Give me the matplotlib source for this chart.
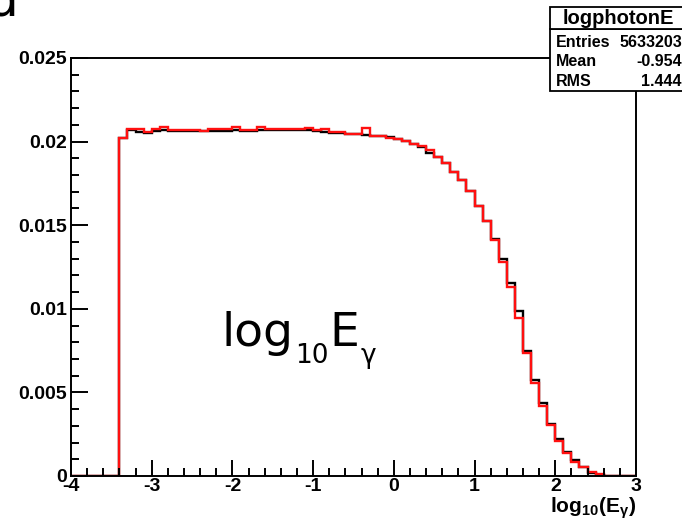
import numpy as np
import matplotlib
matplotlib.use("Agg")
import matplotlib.pyplot as plt
from matplotlib.patches import Rectangle

plt.rcParams['mathtext.fontset'] = 'custom'
plt.rcParams['mathtext.rm'] = 'Liberation Sans:bold'
plt.rcParams['mathtext.it'] = 'Liberation Sans:bold'
plt.rcParams['mathtext.bf'] = 'Liberation Sans:bold'

# ---- data ----
bin_edges = np.round(np.linspace(-4.0, 3.0, 71), 2)

black_vals = [
    0, 0, 0, 0, 0, 0,
    0.02024, 0.02069, 0.02056, 0.02054, 0.02063, 0.02069, 0.02063, 0.02063,
    0.02063, 0.02063, 0.02065, 0.02063, 0.02063, 0.02063, 0.02069, 0.02065,
    0.02065, 0.02069, 0.02069, 0.02069, 0.02069, 0.02069, 0.02067, 0.02067,
    0.02065, 0.02055, 0.02053, 0.02053, 0.02045, 0.02045, 0.02040, 0.02035,
    0.02035, 0.02030,
    0.02018, 0.02004, 0.01984, 0.01965, 0.01930, 0.01910, 0.01870, 0.01820,
    0.01770, 0.01705, 0.01617, 0.01527, 0.01417, 0.01296, 0.01152, 0.00987,
    0.00748, 0.00572, 0.00435, 0.00311, 0.00220, 0.00145, 0.00096, 0.00056,
    0.00020, 0.00006, 0, 0, 0, 0,
]
red_vals = [
    0, 0, 0, 0, 0, 0,
    0.02024, 0.02073, 0.02073, 0.02060, 0.02075, 0.02089, 0.02069, 0.02069,
    0.02069, 0.02069, 0.02065, 0.02075, 0.02075, 0.02075, 0.02089, 0.02069,
    0.02069, 0.02089, 0.02073, 0.02073, 0.02073, 0.02073, 0.02075, 0.02079,
    0.02069, 0.02075, 0.02060, 0.02060, 0.02045, 0.02045, 0.02080, 0.02035,
    0.02035, 0.02024,
    0.02018, 0.02004, 0.01984, 0.01975, 0.01950, 0.01910, 0.01870, 0.01820,
    0.01770, 0.01705, 0.01617, 0.01527, 0.01410, 0.01278, 0.01132, 0.00943,
    0.00734, 0.00554, 0.00419, 0.00307, 0.00211, 0.00139, 0.00086, 0.00056,
    0.00024, 0.00010, 0, 0, 0, 0,
]

ytick_vals = [0, 0.005, 0.01, 0.015, 0.02, 0.025]
ytick_labels = ["0", "0.005", "0.01", "0.015", "0.02", "0.025"]
xtick_vals = [-4, -3, -2, -1, 0, 1, 2, 3]
xtick_labels = ["-4", "-3", "-2", "-1", "0", "1", "2", "3"]

stats_title = "logphotonE"
stats_names = ["Entries", "Mean", "RMS"]
stats_values = ["5633203", "-0.954", "1.444"]

# ---- figure ----
W, H = 682, 518
fig = plt.figure(figsize=(W / 100, H / 100), dpi=100)
L, R, T, B = 71, 636, 58, 476
ax = fig.add_axes([L / W, 1 - B / H, (R - L) / W, (B - T) / H])

ax.stairs(black_vals, bin_edges, color='black', lw=1.7, baseline=None)
ax.stairs(red_vals, bin_edges, color='#ff1010', lw=1.7, baseline=0, fill=False)

ax.set_xlim(-4, 3)
ax.set_ylim(0, 0.025)

tfont = dict(family='Liberation Sans', weight='bold', size=14)
ax.set_xticks(xtick_vals)
ax.set_xticklabels(xtick_labels, **tfont)
ax.set_yticks(ytick_vals)
ax.set_yticklabels(ytick_labels, **tfont)
ax.set_xticks(np.arange(-4, 3.01, 0.2), minor=True)
ax.set_yticks(np.arange(0, 0.02501, 0.001), minor=True)
ax.tick_params(axis='x', which='major', direction='in', length=11.5, width=1.4, pad=1.5)
ax.tick_params(axis='x', which='minor', direction='in', length=6, width=1.4)
ax.tick_params(axis='y', which='major', direction='in', length=12.5, width=1.4, pad=3)
ax.tick_params(axis='y', which='minor', direction='in', length=6, width=1.4)
for s in ax.spines.values():
    s.set_linewidth(1.4)

# x-axis title
fig.text(R / W, 1 - 513 / H, r"log$_{10}$(E$_{\gamma}$)", ha='right', va='baseline',
         family='Liberation Sans', weight='bold', size=15)

# central label, composed of pieces
renderer = fig.canvas.get_renderer()
x_px = 222.0
base_px = 346.0
pieces = [("log", 34, 0), ("10", 19, 17), ("E", 34, 0), ("γ", 19, 17)]
for txt, sz, drop in pieces:
    t = fig.text(x_px / W, 1 - (base_px + drop) / H, txt, ha='left', va='baseline',
                 size=sz, family='DejaVu Sans', color='black')
    bb = t.get_window_extent(renderer=renderer)
    x_px += bb.width + 1

# panel letter (cut at top)
fig.text(-14 / W, 1 - 15 / H, "d", ha='left', va='baseline', size=36,
         family='DejaVu Sans', color='black')

# stats box
bx0, bx1 = 550, 686
ty0, ty1, by1 = 7, 29, 91
fig.patches.append(Rectangle((bx0 / W, 1 - by1 / H), (bx1 - bx0) / W, (by1 - ty1) / H,
                             transform=fig.transFigure, facecolor='white',
                             edgecolor='black', lw=1.3, zorder=5))
fig.patches.append(Rectangle((bx0 / W, 1 - ty1 / H), (bx1 - bx0) / W, (ty1 - ty0) / H,
                             transform=fig.transFigure, facecolor='white',
                             edgecolor='black', lw=1.3, zorder=5))
fig.text(618 / W, 1 - 18.5 / H, stats_title, ha='center', va='center',
         family='Liberation Sans', weight='bold', size=14.5, zorder=6)
row_y = [42, 62, 82]
for name, val, ry in zip(stats_names, stats_values, row_y):
    fig.text(556 / W, 1 - ry / H, name, ha='left', va='center',
             family='Liberation Sans', weight='bold', size=11.5, zorder=6)
    fig.text(682 / W, 1 - ry / H, val, ha='right', va='center',
             family='Liberation Sans', weight='bold', size=11.5, zorder=6)

fig.savefig("out.png", dpi=100)
